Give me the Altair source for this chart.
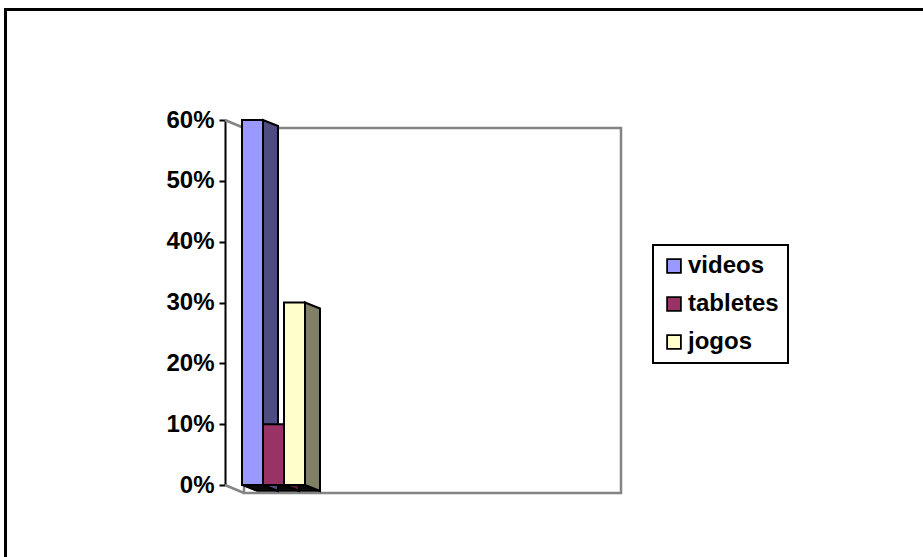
import altair as alt
import pandas as pd

# ---- data ----
categories = ["videos", "tabletes", "jogos"]
values = [0.60, 0.10, 0.30]
front_colors = ["#9999FF", "#993366", "#FFFFCC"]
side_colors = ["#4D4D80", "#4D1933", "#808066"]
y_ticks = [0.0, 0.1, 0.2, 0.3, 0.4, 0.5, 0.6]

# ---- layout / 3D styling constants ----
PLOT_W, PLOT_H = 698, 365
PAD_L, PAD_T = 225, 120
X_MAX = PLOT_W / 21.0          # one x unit = one bar width (~21 px)
Y_PX = PLOT_H / 0.6            # px per value unit
BAR_START = 17 / 21.0
BAR_W = 1.0
DEPTH_X = 15 / 21.0
DEPTH_Y = 6 / Y_PX
WALL_DX = 19 / 21.0
WALL_DY = 8 / Y_PX
WALL_RIGHT = 396 / 21.0

FONT = "Liberation Sans"

xs = alt.Scale(domain=[0, X_MAX], nice=False, zero=False)
ys = alt.Scale(domain=[0, 0.6], nice=False, zero=False)

# front faces
front = pd.DataFrame({
    "cat": categories,
    "x0": [BAR_START + i * BAR_W for i in range(3)],
    "x1": [BAR_START + (i + 1) * BAR_W for i in range(3)],
    "v": values,
    "base": [0.0] * 3,
})

# side faces (parallelograms)
side_rows = []
for i, (c, v) in enumerate(zip(categories, values)):
    x1 = BAR_START + (i + 1) * BAR_W
    side_rows.append({"cat": c, "x": x1, "lo": 0.0, "hi": v, "fillc": side_colors[i]})
    side_rows.append({"cat": c, "x": x1 + DEPTH_X, "lo": -DEPTH_Y, "hi": v - DEPTH_Y, "fillc": side_colors[i]})
side = pd.DataFrame(side_rows)

# bottom faces (seen from below)
bot_rows = []
for i, c in enumerate(categories):
    x0 = BAR_START + i * BAR_W
    x1 = x0 + BAR_W
    bot_rows += [
        {"cat": c, "x": x0, "lo": 0.0, "hi": 0.0},
        {"cat": c, "x": x0 + DEPTH_X, "lo": -DEPTH_Y, "hi": 0.0},
        {"cat": c, "x": x1, "lo": -DEPTH_Y, "hi": 0.0},
        {"cat": c, "x": x1 + DEPTH_X, "lo": -DEPTH_Y, "hi": -DEPTH_Y},
    ]
bottom = pd.DataFrame(bot_rows)

# walls
wall = pd.DataFrame({"x0": [WALL_DX], "x1": [WALL_RIGHT], "y0": [-WALL_DY], "y1": [0.6 - WALL_DY]})
left_wall = pd.DataFrame({
    "seg": ["top", "top", "bot", "bot"],
    "x": [0, WALL_DX, 0, WALL_DX],
    "y": [0.6, 0.6 - WALL_DY, 0.0, -WALL_DY],
})

frame = alt.Chart(pd.DataFrame({"k": [0]})).mark_rect(
    fill=None, stroke="black", strokeWidth=3
).encode(
    x=alt.value(5.5 - PAD_L), x2=alt.value(923 - PAD_L + 20),
    y=alt.value(9.5 - PAD_T), y2=alt.value(557 - PAD_T + 20),
)

back = alt.Chart(wall).mark_rect(fill="white", stroke="#848484", strokeWidth=2.5).encode(
    x=alt.X("x0:Q", scale=xs, axis=None), x2="x1:Q",
    y=alt.Y("y0:Q", scale=ys), y2="y1:Q",
)

lw = alt.Chart(left_wall).mark_line(color="#848484", strokeWidth=2.5).encode(
    x=alt.X("x:Q", scale=xs, axis=None),
    y=alt.Y("y:Q", scale=ys),
    detail="seg:N",
)

bottoms = alt.Chart(bottom).mark_area(fill="#0a0a0a", stroke="black", strokeWidth=1.5).encode(
    x=alt.X("x:Q", scale=xs, axis=None),
    y=alt.Y("lo:Q", scale=ys), y2="hi:Q",
    detail="cat:N",
)

sides = alt.Chart(side).mark_area(stroke="black", strokeWidth=2, strokeJoin="miter").encode(
    x=alt.X("x:Q", scale=xs, axis=None),
    y=alt.Y("lo:Q", scale=ys), y2="hi:Q",
    fill=alt.Fill("fillc:N", scale=None),
    detail="cat:N",
)

fronts = alt.Chart(front).mark_rect(stroke="black", strokeWidth=2, opacity=1).encode(
    x=alt.X("x0:Q", scale=xs, axis=None), x2="x1:Q",
    y=alt.Y(
        "v:Q", scale=ys,
        axis=alt.Axis(
            values=y_ticks, format=".0%", title=None, grid=False,
            domainColor="black", domainWidth=2, tickColor="black", tickWidth=2,
            tickSize=6, labelFont=FONT, labelFontWeight="bold", labelFontSize=24,
            labelColor="black", labelPadding=5,
        ),
    ),
    y2="base:Q",
    color=alt.Color(
        "cat:N",
        scale=alt.Scale(domain=categories, range=front_colors),
        legend=alt.Legend(
            title=None, orient="none", legendX=428, legendY=125,
            symbolType="square", symbolSize=190, symbolStrokeColor="black",
            symbolStrokeWidth=1.8, symbolOpacity=1,
            labelFont=FONT, labelFontWeight="bold", labelFontSize=24, labelColor="black",
            labelOffset=2, rowPadding=14, padding=9,
            strokeColor="black", fillColor="white",
        ),
    ),
)

chart = alt.layer(frame, back, lw, bottoms, sides, fronts).properties(
    width=PLOT_W, height=PLOT_H,
    autosize=alt.AutoSizeParams(type="none"),
    padding={"left": PAD_L, "top": PAD_T, "right": 0, "bottom": 557 - PAD_T - PLOT_H},
    background="white",
).configure_view(stroke=None).configure_legend(strokeWidth=2)

chart.save("out.html", embed_options={"renderer": "svg", "actions": False})
